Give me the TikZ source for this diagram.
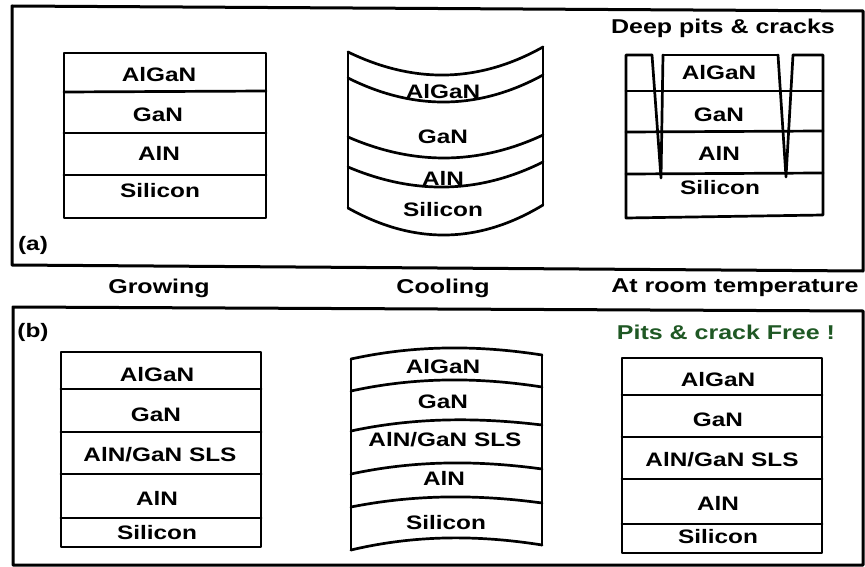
\documentclass[tikz,border=0pt]{standalone}
\usepackage{fontspec}
\newfontfamily\lblfont{Liberation Sans}[FakeStretch=1.25]
\definecolor{freegreen}{RGB}{31,88,36}
\begin{document}
\begin{tikzpicture}[x=1pt,y=-1pt,
  frame/.style={line width=3pt,line join=round,line cap=round},
  layer/.style={line width=2.7pt,line join=round,line cap=round},
  lbl/.style={inner sep=0pt,font=\lblfont\bfseries\fontsize{19.5}{22}\selectfont},
  head/.style={lbl,font=\lblfont\bfseries\fontsize{20}{23}\selectfont}]
\useasboundingbox (0,0) rectangle (865,567);

% ---- outer panels ----
\draw[frame] (12,6) -- (863,11) -- (863,271) -- (12,265) -- cycle;
\draw[frame] (13,307) -- (863,311) -- (863,565) -- (13,565) -- cycle;
\node[lbl] (pa) at (33,245) {(a)};
\node[lbl] (pb) at (33,332) {(b)};

% ---- stage titles ----
\node[head] (tgrow) at (159,288) {Growing};
\node[head] (tcool) at (443,288) {Cooling};
\node[head] (troom) at (735,288) {At room temperature};

% ================= (a) plain stack =================
\draw[layer] (64,53) -- (266,53) -- (266,218) -- (64,218) -- cycle;
\draw[layer] (64,92) -- (266,91);
\draw[layer] (64,133) -- (266,133);
\draw[layer] (64,175) -- (266,175);
\node[lbl] (a1l1) at (159,75) {AlGaN};
\node[lbl] (a1l2) at (158,115) {GaN};
\node[lbl] (a1l3) at (159,153) {AlN};
\node[lbl] (a1l4) at (160,191) {Silicon};

% ================= (a) bowed stack while cooling =================
\draw[layer] (348,52) .. controls (413,83.5) and (478,83.5) .. (543,47);
\draw[layer] (348,78) .. controls (413,110.5) and (478,110.5) .. (543,75);
\draw[layer] (348,137) .. controls (413,165.3) and (478,165.3) .. (543,135);
\draw[layer] (348,167) .. controls (413,194.5) and (478,194.5) .. (543,162);
\draw[layer] (348,208) .. controls (413,244.5) and (478,244.5) .. (543,205);
\draw[layer] (348,52) -- (348,208);
\draw[layer] (543,47) -- (543,205);
\node[lbl] (a2l1) at (443,92) {AlGaN};
\node[lbl] (a2l2) at (443,137) {GaN};
\node[lbl] (a2l3) at (443,178) {AlN};
\node[lbl] (a2l4) at (443,210) {Silicon};

% ================= (a) stack with pits and cracks =================
\node[head] (tpits) at (723,28) {Deep pits \& cracks};
\draw[layer] (652,55) -- (626,55) -- (626,218) -- (823,215) -- (823,55) -- (793,55);
\draw[layer] (663,55) -- (778,55);
\draw[layer] (652,55) -- (661,178) -- (663,55);
\draw[layer] (778,55) -- (786,177) -- (793,55);
\draw[layer] (626,91) -- (823,91);
\draw[layer] (626,132) -- (823,131);
\draw[layer] (626,174) -- (823,173);
\node[lbl] (a3l1) at (719,73) {AlGaN};
\node[lbl] (a3l2) at (719,115) {GaN};
\node[lbl] (a3l3) at (719,153) {AlN};
\node[lbl] (a3l4) at (720,188) {Silicon};

% ================= (b) plain stack =================
\draw[layer] (61,352) -- (261,352) -- (261,547) -- (61,547) -- cycle;
\draw[layer] (61,389) -- (261,389);
\draw[layer] (61,432) -- (261,432);
\draw[layer] (61,474) -- (261,474);
\draw[layer] (61,518) -- (261,518);
\node[lbl] (b1l1) at (157,375) {AlGaN};
\node[lbl] (b1l2) at (156,415) {GaN};
\node[lbl] (b1l3) at (160,455) {AlN/GaN SLS};
\node[lbl] (b1l4) at (157,498) {AlN};
\node[lbl] (b1l5) at (157,533) {Silicon};

% ================= (b) slightly bowed stack while cooling =================
\draw[layer] (351,359) .. controls (415,345) and (478,345) .. (542,355);
\draw[layer] (351,391) .. controls (415,377) and (478,377) .. (542,387);
\draw[layer] (351,431) .. controls (415,417.3) and (478,417.3) .. (542,425);
\draw[layer] (351,474) .. controls (415,460.2) and (478,460.2) .. (542,469);
\draw[layer] (351,507) .. controls (415,494.3) and (478,494.3) .. (542,503);
\draw[layer] (351,550) .. controls (415,534.8) and (478,534.8) .. (542,545);
\draw[layer] (351,359) -- (351,550);
\draw[layer] (542,355) -- (542,545);
\node[lbl] (b2l1) at (443,367) {AlGaN};
\node[lbl] (b2l2) at (443,402) {GaN};
\node[lbl] (b2l3) at (445,440) {AlN/GaN SLS};
\node[lbl] (b2l4) at (444,478) {AlN};
\node[lbl] (b2l5) at (446,523) {Silicon};

% ================= (b) crack-free stack =================
\node[head,text=freegreen] (tfree) at (726,332) {Pits \& crack Free !};
\draw[layer] (622,358) -- (822,358) -- (822,553) -- (622,553) -- cycle;
\draw[layer] (622,395) -- (822,395);
\draw[layer] (622,437) -- (822,437);
\draw[layer] (622,479) -- (822,479);
\draw[layer] (622,524) -- (822,524);
\node[lbl] (b3l1) at (718,380) {AlGaN};
\node[lbl] (b3l2) at (718,420) {GaN};
\node[lbl] (b3l3) at (722,460) {AlN/GaN SLS};
\node[lbl] (b3l4) at (718,503) {AlN};
\node[lbl] (b3l5) at (718,537) {Silicon};
\end{tikzpicture}
\end{document}
